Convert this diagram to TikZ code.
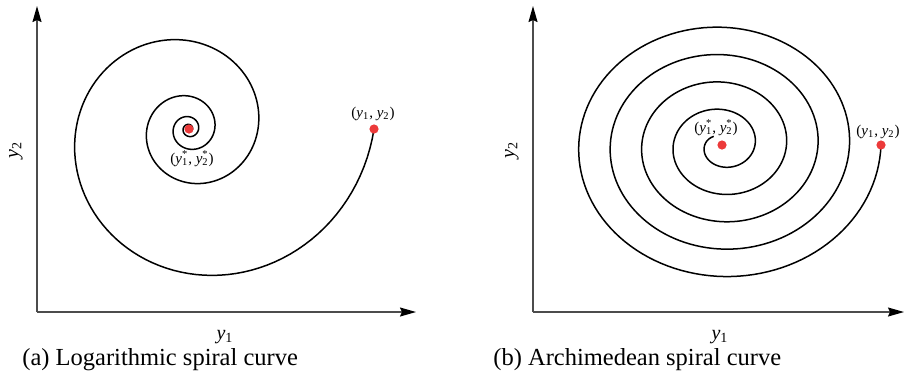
\documentclass[tikz,border=0pt]{standalone}
\usepackage{fontspec}
\setmainfont{Liberation Serif}
\usetikzlibrary{arrows.meta}

\definecolor{ptred}{RGB}{236,58,58}
\newcommand{\yy}[1]{\textit{y}\textsubscript{#1}}
\newcommand{\ys}[1]{\textit{y}\rlap{\textsuperscript{*}}\textsubscript{#1}}

\begin{document}
\begin{tikzpicture}[x=0.5pt, y=-0.5pt,
    axis/.style={black!70, line width=0.7pt, -{Stealth[length=8pt, width=4.5pt, inset=1pt, black]}},
    spiral/.style={line width=0.75pt},
    dot/.style={circle, fill=ptred, inner sep=0pt, minimum size=4.6pt},
    ptlab/.style={font=\fontsize{7.5}{9}\selectfont, inner sep=0pt},
    axlab/.style={font=\fontsize{10}{12}\selectfont, inner sep=0pt},
    figcap/.style={font=\fontsize{12.25}{14}\selectfont, anchor=west, inner sep=0pt}]
  \useasboundingbox (0,0) rectangle (905,382);
  % (a) logarithmic spiral
  \coordinate (oa) at (37,312);
  \coordinate (xa) at (416,312);
  \coordinate (ya) at (37,6);
  \draw[axis] (oa) -- (xa);
  \draw[axis] (oa) -- (ya);
  \draw[spiral] plot[domain=0:1500, samples=500, variable=\t]
    ({189+185*exp(-0.157*\t*pi/180)*cos(\t)}, {129+185*exp(-0.157*\t*pi/180)*sin(\t)});
  \node[dot] (sa) at (374,129) {};
  \node[dot] (ca) at (189,129) {};
  \node[ptlab] at (373,114) {(\yy{1}, \yy{2})};
  \node[ptlab] at (192,159) {(\ys{1}, \ys{2})};
  \node[axlab] at (225,337) {\yy{1}};
  \node[axlab, rotate=90] at (16,150) {\yy{2}};
  \node[figcap] at (22,360) {(a) Logarithmic spiral curve};
  % (b) archimedean spiral
  \coordinate (ob) at (533,312);
  \coordinate (xb) at (904,312);
  \coordinate (yb) at (533,6);
  \draw[axis] (ob) -- (xb);
  \draw[axis] (ob) -- (yb);
  \draw[spiral] plot[domain=0:1670, samples=600, variable=\t]
    ({722+(159-\t/360*31.5)*cos(\t)}, {145+0.87*(159-\t/360*31.5)*sin(\t)});
  \node[dot] (sb) at (881,145) {};
  \node[dot] (cb) at (722,145) {};
  \node[ptlab] at (878,132) {(\yy{1}, \yy{2})};
  \node[ptlab] at (716,128) {(\ys{1}, \ys{2})};
  \node[axlab] at (720,337) {\yy{1}};
  \node[axlab, rotate=90] at (512,150) {\yy{2}};
  \node[figcap] at (493,360) {(b) Archimedean spiral curve};
\end{tikzpicture}
\end{document}
